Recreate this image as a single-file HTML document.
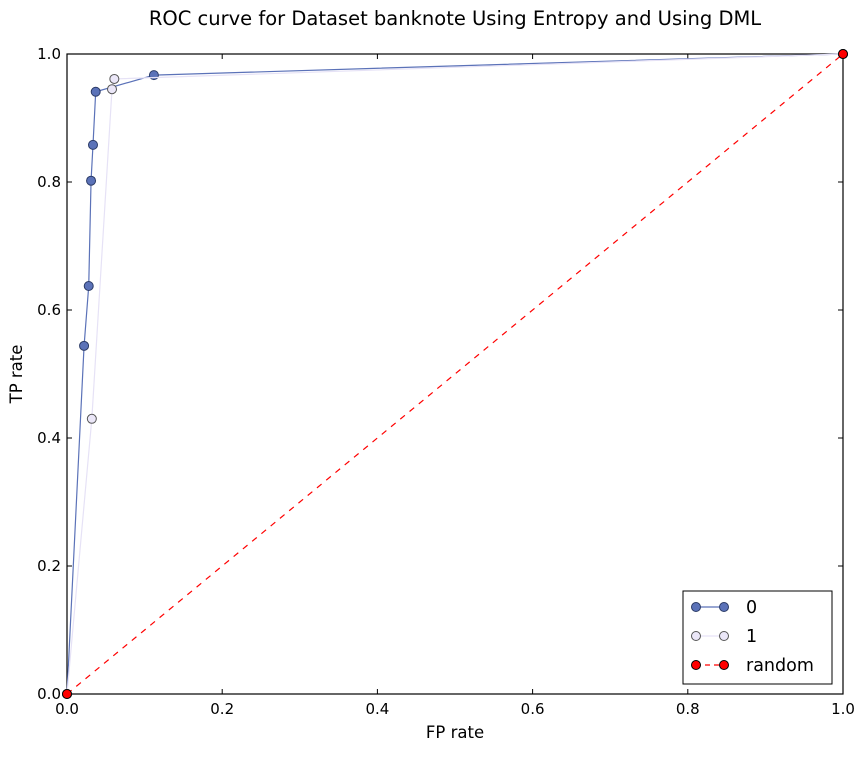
<!DOCTYPE html>
<html><head><meta charset="utf-8"><style>
body{margin:0;background:#fff;font-family:"Liberation Sans","DejaVu Sans",sans-serif}
svg text{font-family:"DejaVu Sans","Liberation Sans",sans-serif}
</style></head><body>
<svg id="chart" width="865" height="752" xmlns="http://www.w3.org/2000/svg"></svg>
<script>
const ticks=[0,0.2,0.4,0.6,0.8,1.0];
const tickLabels=["0.0","0.2","0.4","0.6","0.8","1.0"];
const fpr0=[0,0.022,0.028,0.031,0.0335,0.037,0.112,1];
const tpr0=[0,0.544,0.6375,0.802,0.858,0.941,0.967,1];
const fpr1=[0,0.032,0.058,0.061,1];
const tpr1=[0,0.43,0.945,0.961,1];
const fprR=[0,1];
const tprR=[0,1];
const NS="http://www.w3.org/2000/svg";
const svg=document.getElementById('chart');
const X0=67,X1=843,Y0=694,Y1=54;
const sx=v=>X0+v*(X1-X0), sy=v=>Y0-v*(Y0-Y1);
function mk(t,a,p){const e=document.createElementNS(NS,t);for(const k in a)e.setAttribute(k,a[k]);(p||svg).appendChild(e);return e;}
let t=mk('text',{x:455,y:25,'text-anchor':'middle','font-size':19.5});t.textContent="ROC curve for Dataset banknote Using Entropy and Using DML";


let fr=mk('rect',{x:X0,y:Y1,width:X1-X0,height:Y0-Y1,fill:'#fff',stroke:'#000','stroke-width':1.2});


ticks.forEach((v,i)=>{
 mk('line',{x1:sx(v),x2:sx(v),y1:Y0,y2:Y0-5,stroke:'#000'});
 mk('line',{x1:sx(v),x2:sx(v),y1:Y1,y2:Y1+5,stroke:'#000'});
 mk('line',{x1:X0,x2:X0+5,y1:sy(v),y2:sy(v),stroke:'#000'});
 mk('line',{x1:X1,x2:X1-5,y1:sy(v),y2:sy(v),stroke:'#000'});
 let a=mk('text',{x:sx(v),y:Y0+20,'text-anchor':'middle','font-size':15});a.textContent=tickLabels[i];
 
 
 let b=mk('text',{x:X0-6,y:sy(v)+5,'text-anchor':'end','font-size':15});b.textContent=tickLabels[i];
 
 
});
let xl=mk('text',{x:455,y:738,'text-anchor':'middle','font-size':16.5});xl.textContent="FP rate";


let yl=mk('text',{x:22,y:374,'text-anchor':'middle','font-size':16.5,transform:'rotate(-90 22 374)'});yl.textContent="TP rate";


function series(xs,ys,col,fill,edge,dash,name){
 const g=mk('g',{});
 
 
 mk('polyline',{points:xs.map((x,i)=>sx(x)+','+sy(ys[i])).join(' '),fill:'none',stroke:col,'stroke-width':1.2,'stroke-dasharray':dash||''},g);
 xs.forEach((x,i)=>{const c=mk('circle',{cx:sx(x),cy:sy(ys[i]),r:4.5,fill:fill,stroke:edge,'stroke-width':1},g);
 
 });
}
series(fpr0,tpr0,'#5b72b8','#5b72b8','#2a3a66','','series-0');
series(fpr1,tpr1,'#e6e2f6','#ebe7f8','#555','','series-1');
series(fprR,tprR,'#ff0000','#ff0000','#000','6,6','series-random');
const lg=mk('g',{});


mk('rect',{x:683,y:591,width:149,height:93,fill:'#fff',stroke:'#000'},lg);
[['0','#5b72b8','#5b72b8','#2a3a66',''],['1','#e6e2f6','#ebe7f8','#555',''],['random','#ff0000','#ff0000','#000','5,4']].forEach((e,i)=>{
 const y=607+i*29;
 mk('line',{x1:696,x2:724,y1:y,y2:y,stroke:e[1],'stroke-dasharray':e[4],'stroke-width':1.2},lg);
 mk('circle',{cx:696,cy:y,r:4.5,fill:e[2],stroke:e[3]},lg);
 mk('circle',{cx:724,cy:y,r:4.5,fill:e[2],stroke:e[3]},lg);
 const tx=mk('text',{x:746,y:y+6,'font-size':17.5},lg);tx.textContent=e[0];
 
 
});
</script>
</body></html>
